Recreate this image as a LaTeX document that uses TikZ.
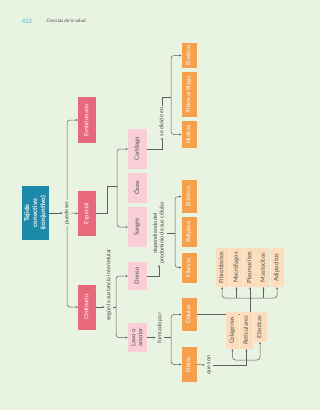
\documentclass[tikz,border=0pt]{standalone}
\usepackage{fontspec}
\setmainfont{Lato}
\usepackage{graphicx}
\usetikzlibrary{arrows.meta,backgrounds}

\definecolor{pagebg}{RGB}{233,243,225}
\definecolor{rootc}{RGB}{28,138,168}
\definecolor{redc}{RGB}{232,104,124}
\definecolor{pinkc}{RGB}{249,206,214}
\definecolor{orangec}{RGB}{244,160,76}
\definecolor{peachc}{RGB}{252,222,190}
\definecolor{linec}{RGB}{95,95,95}
\definecolor{numc}{RGB}{58,176,216}

% text that reads upwards
\newcommand{\up}[1]{\rotatebox{90}{\begin{tabular}{@{}c@{}}#1\end{tabular}}}

\begin{document}
\begin{tikzpicture}[x=1pt,y=-1pt,
  box/.style={inner sep=0pt,font=\fontsize{6}{7}\selectfont,text=white},
  rootbox/.style={box,fill=rootc,font=\fontsize{6.5}{8}\selectfont\bfseries,
                  minimum width=27pt,minimum height=54pt},
  mainbox/.style={box,fill=redc,minimum width=18pt},
  subbox/.style={box,fill=pinkc,text=black!70,minimum width=19pt},
  kindbox/.style={box,fill=orangec,minimum width=15pt},
  itembox/.style={box,fill=peachc,text=black!70,minimum width=13pt},
  lbl/.style={font=\fontsize{5.5}{6.5}\selectfont,text=black!75,inner sep=1pt,fill=pagebg},
  line/.style={draw=linec,line width=0.5pt},
  arr/.style={line,-{Stealth[length=2.2pt,width=2pt]}},
  both/.style={line,{Stealth[length=2.2pt,width=2pt]}-{Stealth[length=2.2pt,width=2pt]},
               rounded corners=3pt}]
\useasboundingbox (0,0) rectangle (320,410);

% header
\node[font=\fontsize{6}{7}\selectfont,text=numc] (pnum) at (27,21) {412};
\node[font=\fontsize{4.6}{5}\selectfont,text=black!70,anchor=west] (phead) at (43,21) {Ciencias de la salud};

% root and first level
\node[rootbox] (root) at (35.5,213) {\up{Tejido\\conectivo\\(conjuntivo)}};
\node[lbl] (puede) at (67,213) {\up{puede ser}};
\node[mainbox,minimum height=46pt] (emb) at (87,120) {\up{Embrionario}};
\node[mainbox,minimum height=45pt] (esp) at (87,213.5) {\up{Especial}};
\node[mainbox,minimum height=45pt] (ord) at (87,307) {\up{Ordinario}};

% especial
\node[subbox,minimum height=40pt] (cart) at (137.5,149) {\up{Cartílago}};
\node[subbox,minimum height=30pt] (oseo) at (137.5,188) {\up{Óseo}};
\node[subbox,minimum height=40pt] (sang) at (137.5,227) {\up{Sangre}};
\node[lbl] (divide) at (162,122) {\up{se divide en}};
\node[kindbox,minimum height=25pt] (elas1) at (189,55.5) {\up{Elástico}};
\node[kindbox,minimum height=45pt] (fcart) at (189,94.5) {\up{Fibrocartílago}};
\node[kindbox,minimum height=27pt] (hial) at (189,134.5) {\up{Hialino}};

% ordinario
\node[lbl] (segun) at (109,285) {\up{según la sustancia intercelular}};
\node[subbox,minimum height=28pt] (denso) at (137.5,276) {\up{Denso}};
\node[subbox,minimum height=29pt] (laxo) at (137.5,337.5) {\up{Laxo o\\areolar}};
\node[lbl] (depend) at (159,233) {\up{dependiendo del\\predominio de sus células}};
\node[kindbox,minimum height=33pt] (elas2) at (189,196.5) {\up{Elástico}};
\node[kindbox,minimum height=30pt] (adip) at (189,232) {\up{Adiposo}};
\node[kindbox,minimum height=30pt] (fbso) at (189,267.5) {\up{Fibroso}};
\node[lbl] (formado) at (160,328) {\up{formado por}};
\node[kindbox,minimum height=33pt] (cel) at (189,314.5) {\up{Células}};
\node[kindbox,minimum height=35pt] (fibras) at (189,364.5) {\up{Fibras}};

% cells
\node[itembox,minimum height=39pt] (fblast) at (222,267.5) {\up{Fibroblastos}};
\node[itembox,minimum height=39pt] (macro) at (236.5,267.5) {\up{Macrófagos}};
\node[itembox,minimum height=39pt] (plasm) at (250,267.5) {\up{Plasmocitos}};
\node[itembox,minimum height=39pt] (masto) at (263.5,267.5) {\up{Mastocitos}};
\node[itembox,minimum height=39pt] (adipo) at (277,267.5) {\up{Adipocitos}};

% fibers
\node[lbl] (queson) at (209,365) {\up{que son}};
\node[itembox,minimum height=37pt] (colag) at (232.5,330.5) {\up{Colágenas}};
\node[itembox,minimum height=37pt] (retic) at (246.5,330.5) {\up{Reticulares}};
\node[itembox,minimum height=30pt] (elast) at (260,327) {\up{Elásticas}};

\begin{scope}[on background layer]
\fill[pagebg] (0,0) rectangle (320,410);

\draw[arr] (root.east) -- (puede.west);
\draw[arr] (puede.east) -- (esp.west);
\draw[both] (emb.west) -| (puede.center) |- (ord.west);

\coordinate (jesp) at (117,186);
\draw[line] (esp.east) -- ++(11,0) |- (jesp);
\draw[both] (cart.west) -| (jesp) |- (sang.west);

\draw[arr] (cart.east) -| (divide.south);
\coordinate (jcart) at (171,97);
\draw[line] (divide.north) |- (jcart);
\draw[both] (elas1.west) -| (jcart) |- (hial.west);

\draw[arr] (ord.east) -- (ord.east -| segun.west);
\coordinate (jord) at (116,307);
\draw[line] (ord.east -| segun.east) -- (jord);
\draw[both] (denso.west) -| (jord) |- (laxo.west);

\draw[arr] (denso.east) -| (depend.south);
\coordinate (jdens) at (175,233);
\draw[line] (depend.east) -- (jdens);
\draw[both] (elas2.west) -| (jdens) |- (fbso.west);

\draw[arr] (laxo.east) -- (laxo.east -| formado.west);
\coordinate (jlaxo) at (171,337.5);
\draw[line] (laxo.east -| formado.east) -- (jlaxo);
\draw[both] (cel.west) -| (jlaxo) |- (fibras.west);

\draw[arr] (cel.east) -| (plasm.south);
\coordinate (jcel) at (250,298);
\draw[both] (fblast.south) |- (jcel) -| (adipo.south);
\draw[arr] (macro.south |- jcel) -- (macro.south);
\draw[arr] (masto.south |- jcel) -- (masto.south);

\draw[arr] (fibras.east) -- (queson.west);
\draw[arr] (queson.east) -| (retic.south);
\coordinate (jfib) at (246.5,360);
\draw[both] (colag.south) |- (jfib) -| (elast.south);
\end{scope}
\end{tikzpicture}
\end{document}
